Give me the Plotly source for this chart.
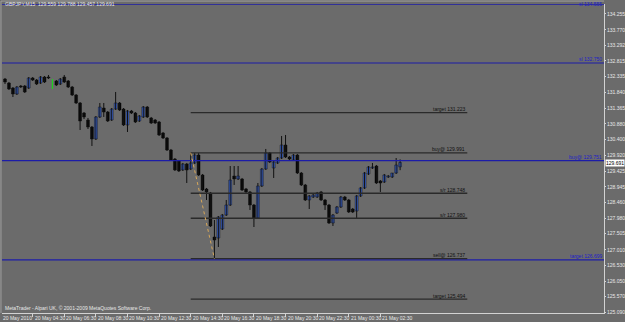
import plotly.graph_objects as go
import pandas as pd

# ---- data (GBPJPY M15) ----
opens = [132.258,132.135,131.981,131.797,132.043,132.043,131.981,132.289,132.227,132.135,
         132.319,132.319,132.104,132.197,132.104,132.319,132.197,132.012,131.766,131.521,
         131.213,130.998,130.783,130.415,131.091,131.367,131.244,130.998,131.336,131.521,
         131.336,130.845,131.275,131.213,130.968,131.091,131.398,131.060,130.998,130.937,
         130.599,130.446,130.077,129.800,
         129.739,129.463,129.647,129.493,129.678,129.923,129.309,128.879,128.756,127.404,
         127.373,127.650,128.080,128.387,129.278,129.186,129.186,128.879,128.787,128.387,
         127.988,128.971,129.493,129.985,129.524,129.678,129.831,130.230,129.862,129.770,
         129.923,129.370,129.002,128.541,128.633,128.633,128.787,128.541,128.387,127.834,
         128.141,128.326,128.633,128.541,128.264,128.203,128.664,128.910,129.340,129.524,
         129.585,129.125,129.094,129.248,129.248,129.370,129.559]
highs = [132.289,132.166,132.012,132.043,132.074,132.074,132.319,132.319,132.258,132.350,
         132.350,132.381,132.258,132.227,132.289,132.381,132.227,132.043,131.797,131.551,
         131.244,131.060,130.814,131.121,131.521,131.521,131.275,131.367,131.859,131.551,
         131.367,131.306,131.306,131.244,131.152,131.428,131.428,131.091,131.029,130.968,
         130.630,130.476,130.108,129.831,
         129.770,129.678,129.678,129.991,129.985,129.985,129.340,128.910,128.787,127.926,
         128.049,128.111,128.541,129.585,129.585,129.585,129.217,128.910,128.818,128.418,
         129.063,129.524,130.108,130.015,129.739,129.862,130.507,130.538,129.893,129.954,
         129.954,129.401,129.033,128.695,128.725,128.787,128.818,128.572,128.418,128.111,
         128.357,128.664,128.664,128.572,128.295,128.695,128.940,129.401,129.585,129.678,
         129.616,129.155,129.340,129.309,129.370,129.831,129.788]
lows = [132.104,131.920,131.705,131.766,131.981,131.828,131.951,132.197,132.074,132.104,
        132.135,132.258,131.951,132.043,132.074,132.135,131.981,131.736,131.490,130.691,
        131.029,130.722,130.200,130.384,131.060,131.091,130.937,130.968,131.306,131.275,
        130.814,130.630,131.183,130.906,130.937,131.060,131.060,130.876,130.876,130.507,
        130.415,130.046,129.739,129.432,
        129.401,129.432,129.063,129.463,129.647,129.278,128.818,128.541,127.711,126.737,
        127.097,127.619,128.049,128.357,129.002,129.155,128.818,128.756,128.234,127.711,
        127.957,128.940,129.463,129.678,129.217,129.647,129.800,129.831,129.770,129.739,
        129.340,128.971,128.510,128.264,128.602,128.602,128.510,128.234,127.804,127.742,
        128.111,128.295,128.510,128.141,128.141,127.988,128.633,128.879,129.309,129.493,
        129.033,128.787,129.063,129.217,129.217,129.340,129.457]
closes = [132.166,131.951,131.797,132.012,132.012,131.859,132.289,132.227,132.104,132.319,
          132.166,132.289,132.104,132.074,132.258,132.166,132.012,131.766,131.521,130.968,
          131.091,130.783,130.415,131.091,131.398,131.244,130.968,131.336,131.521,131.306,
          130.845,131.275,131.213,130.937,131.121,131.398,131.091,130.906,130.906,130.538,
          130.446,130.077,129.770,129.463,
          129.432,129.647,129.463,129.678,129.923,129.309,128.848,128.787,127.742,127.312,
          128.019,128.080,128.387,129.155,129.186,129.278,128.848,128.787,128.387,127.988,
          128.971,129.493,129.985,129.708,129.708,129.831,130.230,129.862,129.800,129.923,
          129.370,129.002,128.541,128.664,128.695,128.756,128.541,128.387,127.834,128.080,
          128.326,128.633,128.541,128.172,128.172,128.664,128.910,129.370,129.555,129.555,
          129.063,129.063,129.309,129.278,129.370,129.616,129.691]

first_bar_time = "2010-05-20 02:45"
bar_minutes = 15
time_labels = ["20 May 2010", "20 May 04:30", "20 May 06:30", "20 May 08:30", "20 May 10:30",
               "20 May 12:30", "20 May 14:30", "20 May 16:30", "20 May 18:30", "20 May 20:30",
               "20 May 22:30", "21 May 00:30", "21 May 02:30"]
time_label_times = ["2010-05-20 02:30", "2010-05-20 04:30", "2010-05-20 06:30", "2010-05-20 08:30",
                    "2010-05-20 10:30", "2010-05-20 12:30", "2010-05-20 14:30", "2010-05-20 16:30",
                    "2010-05-20 18:30", "2010-05-20 20:30", "2010-05-20 22:30", "2010-05-21 00:30",
                    "2010-05-21 02:30"]

price_ticks = ["134.255", "133.770", "133.292", "132.815", "132.335", "131.840", "131.365",
               "130.880", "130.400", "129.920", "129.425", "128.945", "128.460", "127.980",
               "127.505", "127.010", "126.530", "126.050", "125.570", "125.090"]

blue_levels = [134.555, 132.750, 129.751, 126.699]
blue_labels = ["sl 134.555", "sl 132.750", "buy@ 129.751", "target 126.699"]

fib_levels = [131.223, 129.991, 128.748, 127.980, 126.737, 125.494]
fib_labels = ["target 131.223", "buy@ 129.991", "s/r 128.748", "s/r 127.980", "sell@ 126.737", "target 125.494"]
swing_high_bar = 47
swing_low_bar = 53
fib_end_bar = 117

symbol = "GBPJPY,M15"
doji_bars = [12]

# ---- figure ----
BG = "#6b6b6b"
AX = "#d2d2d2"
TXT = "#e8e8e8"
BULL = "#3d69dc"
BEAR = "#050505"
FONT = "Liberation Sans"
FS = 5

XMIN, XMAX = -0.76, 151.6
YMIN, YMAX = 125.069, 134.562

n = len(opens)
idx = list(range(n))
t0 = pd.Timestamp(first_bar_time)
label_idx = [(pd.Timestamp(t) - t0) / pd.Timedelta(minutes=bar_minutes) for t in time_label_times]

fig = go.Figure()

# wicks
wx, wy = [], []
for i in idx:
    if i in doji_bars:
        continue
    wx += [i, i, None]
    wy += [lows[i], highs[i], None]
fig.add_trace(go.Scatter(x=wx, y=wy, mode="lines", line=dict(color="#111111", width=1),
                         hoverinfo="skip"))

# bodies
for bull in (True, False):
    xs, base, hgt = [], [], []
    for i in idx:
        if i in doji_bars:
            continue
        if (closes[i] >= opens[i]) == bull:
            xs.append(i)
            lo, hi = min(opens[i], closes[i]), max(opens[i], closes[i])
            base.append(lo)
            hgt.append(max(hi - lo, 0.012))
    fig.add_trace(go.Bar(x=xs, y=hgt, base=base, width=0.72,
                         marker=dict(color=BULL if bull else BEAR,
                                     line=dict(color="#101010", width=0.5))))

# doji drawn in green
for i in doji_bars:
    fig.add_trace(go.Scatter(x=[i, i], y=[lows[i], highs[i]], mode="lines",
                             line=dict(color="#1fd01f", width=1.2), hoverinfo="skip"))

shapes = []
annotations = []

for lv, lb in zip(blue_levels, blue_labels):
    shapes.append(dict(type="line", xref="paper", x0=0, x1=1, yref="y", y0=lv, y1=lv,
                       line=dict(color="#1c1ca8", width=1.2)))
    near_top = (YMAX - lv) < 0.15
    annotations.append(dict(x=1, xref="paper", y=lv, yref="y", text=lb, showarrow=False,
                            xanchor="right", yanchor="middle" if near_top else "bottom",
                            yshift=0 if near_top else -1.5,
                            font=dict(size=FS, color="#1e1ec8", family=FONT)))

for lv, lb in zip(fib_levels, fib_labels):
    shapes.append(dict(type="line", xref="x", x0=swing_high_bar, x1=fib_end_bar, yref="y",
                       y0=lv, y1=lv, line=dict(color="#2a2a2a", width=1.3)))
    annotations.append(dict(x=fib_end_bar, xref="x", y=lv, yref="y", text=lb, showarrow=False,
                            xanchor="right", yanchor="bottom", yshift=-1.5,
                            font=dict(size=FS, color="#111111", family=FONT)))

shapes.append(dict(type="line", xref="x", yref="y", x0=swing_high_bar, x1=swing_low_bar,
                   y0=fib_levels[1], y1=fib_levels[4],
                   line=dict(color="#d8a85a", width=1, dash="dot")))

# frame lines (left / top)
shapes.append(dict(type="line", xref="paper", yref="paper", x0=-0.0017, x1=-0.0017, y0=0, y1=1.01,
                   line=dict(color="#a0a0a0", width=1)))
shapes.append(dict(type="line", xref="paper", yref="paper", x0=-0.0017, x1=1, y0=1.0095, y1=1.0095,
                   line=dict(color="#a0a0a0", width=1)))

for lx, lt in zip(label_idx, time_labels):
    px = (lx - XMIN) / (XMAX - XMIN)
    annotations.append(dict(x=px, xref="paper", y=0, yref="paper", text=lt, showarrow=False,
                            xanchor="left", yanchor="top", xshift=0, yshift=0.5,
                            font=dict(size=FS, color=TXT, family=FONT)))

annotations.append(dict(x=0, xref="paper", y=0, yref="paper",
                        text="MetaTrader - Alpari UK, © 2001-2009 MetaQuotes Software Corp.",
                        showarrow=False, xanchor="left", yanchor="bottom", xshift=1, yshift=0,
                        font=dict(size=FS, color=TXT, family=FONT)))

header = "%s  %.3f %.3f %.3f %.3f" % (symbol, opens[-1], highs[-1], lows[-1], closes[-1])
annotations.append(dict(x=0, xref="paper", y=1, yref="paper", text=header, showarrow=False,
                        xanchor="left", yanchor="middle", xshift=1, yshift=0,
                        font=dict(size=FS, color=TXT, family=FONT)))

annotations.append(dict(x=1, xref="paper", y=closes[-1], yref="y", text="%.3f" % closes[-1],
                        showarrow=False, xanchor="left", yanchor="middle", xshift=1,
                        bgcolor="#ffffff", borderpad=0,
                        font=dict(size=FS, color="#000000", family=FONT)))

fig.update_layout(
    width=625, height=322,
    margin=dict(l=2, r=21, t=4, b=9, autoexpand=False),
    paper_bgcolor=BG, plot_bgcolor=BG,
    showlegend=False, barmode="overlay",
    shapes=shapes, annotations=annotations,
    font=dict(family=FONT, size=FS, color=TXT),
)
fig.update_xaxes(range=[XMIN, XMAX], showgrid=False, zeroline=False, showline=True,
                 linecolor=AX, linewidth=1, tickvals=label_idx, ticks="outside", ticklen=3,
                 tickcolor=AX, showticklabels=False, automargin=False)
fig.update_yaxes(range=[YMIN, YMAX], side="right", showgrid=False, zeroline=False,
                 showline=True, linecolor=AX, linewidth=1,
                 tickvals=[float(v) for v in price_ticks], ticktext=price_ticks,
                 ticks="outside", ticklen=1, tickcolor=AX,
                 tickfont=dict(size=FS, color=TXT, family=FONT), automargin=False)

fig.write_html("out.html")
